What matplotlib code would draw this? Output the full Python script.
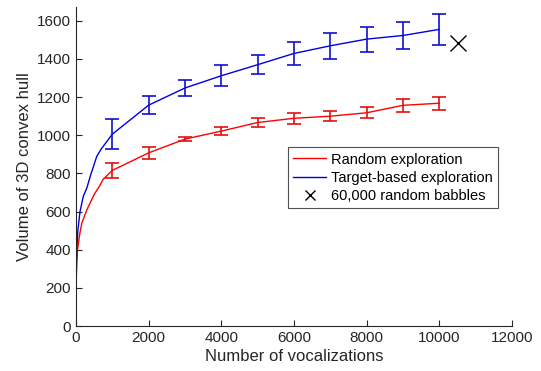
import matplotlib
matplotlib.use('Agg')
import matplotlib.pyplot as plt

# mean curves (dense start, then every 1000 vocalizations)
random_x = [0, 20, 40, 100, 160, 300, 500, 650, 750, 1000,
            2000, 3000, 4000, 5000, 6000, 7000, 8000, 9000, 10000]
random_y = [200, 330, 400, 480, 540, 610, 690, 735, 770, 816,
            908, 980, 1022, 1067, 1089, 1100, 1118, 1157, 1168]
target_x = [0, 20, 50, 110, 200, 300, 400, 570, 700, 1000,
            2000, 3000, 4000, 5000, 6000, 7000, 8000, 9000, 10000]
target_y = [180, 400, 500, 600, 680, 725, 790, 889, 930, 1006,
            1158, 1248, 1312, 1370, 1429, 1469, 1504, 1523, 1555]

# error bars at every 1000
err_x = [1000, 2000, 3000, 4000, 5000, 6000, 7000, 8000, 9000, 10000]
random_err = [38, 30, 9, 23, 24, 28, 27, 30, 34, 35]
target_err = [80, 46, 40, 55, 51, 62, 67, 65, 72, 80]

babble_x = [10500]
babble_y = [1482]

plt.rcParams['font.family'] = ['Liberation Sans', 'DejaVu Sans']

fig = plt.figure(figsize=(5.41, 3.71), dpi=100)
ax = fig.add_axes([0.1405, 0.121, 0.806, 0.86])

red = '#ff0000'
blue = '#0000e0'

ax.plot(random_x, random_y, color=red, lw=1.0, label='Random exploration')
ax.plot(target_x, target_y, color=blue, lw=1.0, label='Target-based exploration')
ax.errorbar(err_x, random_y[9:], yerr=random_err, fmt='none', ecolor='#e01010',
            elinewidth=1.2, capsize=5, capthick=1.2)
ax.errorbar(err_x, target_y[9:], yerr=target_err, fmt='none', ecolor='#1010d0',
            elinewidth=1.2, capsize=5, capthick=1.2)
ax.plot(babble_x, babble_y, 'x', color='black', ms=11, mew=1.0, ls='none',
        label='60,000 random babbles')

ax.set_xlim(0, 12000)
ax.set_ylim(0, 1672)
ax.set_xticks(range(0, 12001, 2000))
ax.set_yticks(range(0, 1601, 200))
ax.spines['top'].set_visible(False)
ax.spines['right'].set_visible(False)
for s in ['left', 'bottom']:
    ax.spines[s].set_color('#262626')
    ax.spines[s].set_linewidth(0.8)
ax.tick_params(direction='in', length=4, labelsize=11, colors='#262626', width=0.8)

ax.set_xlabel('Number of vocalizations', fontsize=12, color='#262626', labelpad=3)
ax.set_ylabel('Volume of 3D convex hull', fontsize=12, color='#262626', labelpad=4)

leg = ax.legend(loc='upper left', bbox_to_anchor=(0.487, 0.56), fontsize=10.5,
                frameon=True, fancybox=False, edgecolor='#262626',
                handlelength=2.2, handletextpad=0.4, borderpad=0.35,
                labelspacing=0.3, borderaxespad=0, markerscale=0.7)
leg.get_frame().set_linewidth(0.8)

fig.savefig('out.png', dpi=100)
